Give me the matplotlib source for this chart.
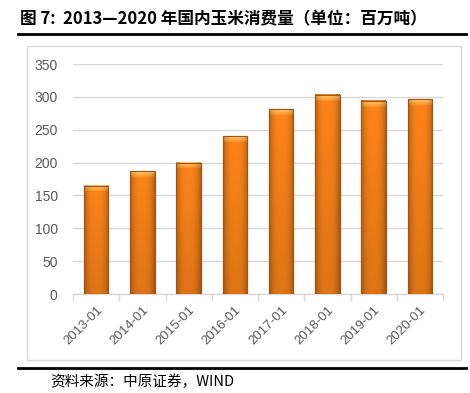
import numpy as np
import matplotlib.pyplot as plt
from matplotlib.patches import Rectangle
from matplotlib.lines import Line2D

plt.rcParams['font.family'] = ['Noto Sans CJK SC', 'DejaVu Sans']

months = ['2013-01', '2014-01', '2015-01', '2016-01', '2017-01', '2018-01', '2019-01', '2020-01']
consumption = [165, 187, 200, 240, 281, 303, 294, 296]

title = '图 7:  2013—2020 年国内玉米消费量（单位：百万吨）'
source = '资料来源：中原证券，WIND'


def bar_texture(h):
    # horizontal shading: dark edges, bright middle; a bit darker near the bottom
    xs = np.linspace(-1, 1, 40)
    hprof = 1 - 0.28 * np.abs(xs) ** 3
    ys = np.linspace(0, 1, 60)[:, None]  # 0 = top, 1 = bottom
    vprof = 1 - 0.12 * ys
    base = np.array([0.99, 0.52, 0.10])
    img = base[None, None, :] * (hprof[None, :, None] * vprof[:, :, None])
    return np.clip(img, 0, 1)


def cap_texture():
    xs = np.linspace(-1, 1, 40)
    hprof = 1 - 0.25 * np.abs(xs) ** 3
    ys = np.linspace(0, 1, 10)[:, None]
    top = np.array([1.0, 0.80, 0.45])
    bot = np.array([0.99, 0.58, 0.15])
    col = top[None, None, :] * (1 - ys[:, :, None]) + bot[None, None, :] * ys[:, :, None]
    return np.clip(col * hprof[None, :, None], 0, 1)


fig = plt.figure(figsize=(4.7, 3.93), dpi=100)

# chart frame
fig.patches.append(Rectangle((27 / 470, 1 - 360 / 393), 434 / 470, 314 / 393,
                             transform=fig.transFigure, fill=False,
                             edgecolor='#D9D9D9', linewidth=1))
# thick rules
fig.lines.append(Line2D([18 / 470, 466 / 470], [1 - 34 / 393] * 2, transform=fig.transFigure,
                        color='black', linewidth=2))
fig.lines.append(Line2D([18 / 470, 466 / 470], [1 - 368 / 393] * 2, transform=fig.transFigure,
                        color='black', linewidth=2))

fig.text(20 / 470, 1 - 19 / 393, title, fontsize=12, fontweight='bold', va='center', ha='left')
fig.text(50 / 470, 1 - 382 / 393, source, fontsize=10.5, va='center', ha='left')

ax = fig.add_axes([73 / 470, 1 - 294 / 393, 370 / 470, 230 / 393])

x = np.arange(len(months))
width = 0.53
bars = ax.bar(x, consumption, width=width, color='#F5821F', edgecolor='#9C4A12',
              linewidth=0.8, zorder=2)
cap_h = 9
for b, v in zip(bars, consumption):
    x0 = b.get_x()
    ax.imshow(bar_texture(v), extent=[x0, x0 + width, 0, v], aspect='auto', zorder=3,
              interpolation='bilinear')
    ax.imshow(cap_texture(), extent=[x0, x0 + width, v - cap_h, v], aspect='auto', zorder=4,
              interpolation='bilinear')
    ax.add_patch(Rectangle((x0, 0), width, v, fill=False, edgecolor='#A65215',
                           linewidth=0.8, zorder=5))

ax.set_xlim(-0.5, len(months) - 0.5)
ax.set_ylim(0, 350)
ax.set_yticks(range(0, 351, 50))
ax.yaxis.grid(True, color='#D9D9D9', linewidth=1)
ax.set_axisbelow(True)
for s in ['top', 'right', 'left']:
    ax.spines[s].set_visible(False)
ax.spines['bottom'].set_color('#D9D9D9')
ax.spines['bottom'].set_linewidth(1)

ax.set_xticks(x)
ax.set_xticklabels(months, rotation=45, ha='right', va='top', rotation_mode='anchor',
                   fontsize=9.5, color='#595959', family='Liberation Sans')
ax.set_xticks(np.arange(-0.5, len(months), 1), minor=True)
ax.tick_params(axis='x', which='major', length=0, pad=7)
ax.tick_params(axis='x', which='minor', length=5, color='#D9D9D9', width=1)
ax.tick_params(axis='y', length=0, pad=11, labelsize=10, labelcolor='#595959')
for t in ax.get_yticklabels():
    t.set_family('Liberation Sans')

fig.savefig('out.png', dpi=100)
